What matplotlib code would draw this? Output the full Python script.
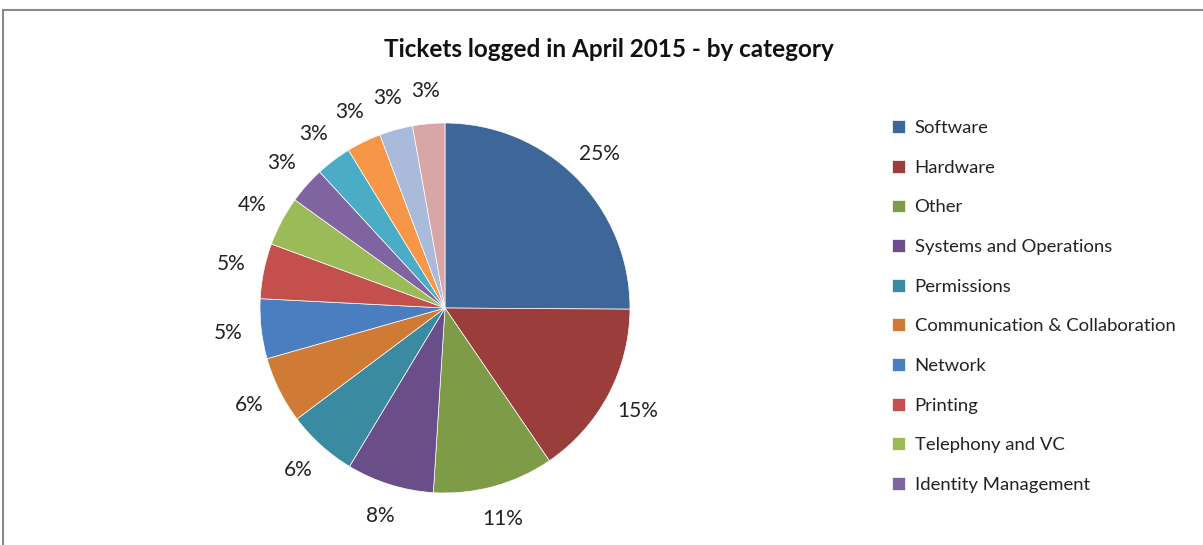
import matplotlib
matplotlib.use("Agg")
import matplotlib.pyplot as plt
from matplotlib.patches import Rectangle

# categories shown in the legend (the last four slices are not listed in the legend)
categories = ["Software", "Hardware", "Other", "Systems and Operations", "Permissions",
              "Communication & Collaboration", "Network", "Printing",
              "Telephony and VC", "Identity Management",
              "Unlisted 11", "Unlisted 12", "Unlisted 13", "Unlisted 14"]
shares = [25.0, 15.3, 10.5, 7.6, 6.1, 5.8, 5.2, 4.8, 4.3, 3.2, 3.1, 3.0, 2.9, 2.8]
colors = ["#3D6699", "#9B3D3B", "#7E9B48", "#6A4E8A", "#3A8BA1", "#D07B35",
          "#4A7EC0", "#C4504D", "#9BBB59", "#8064A2", "#4BACC6", "#F79646",
          "#A9BADB", "#D9A6A8"]
legend_count = 10

plt.rcParams['font.family'] = ['Lato', 'DejaVu Sans']

fig = plt.figure(figsize=(12.03, 5.45), dpi=100)

# chart border
fig.patches.append(Rectangle((3 / 1203, -0.05), 1.2, 1.05 - 10 / 545,
                             transform=fig.transFigure, fill=False,
                             edgecolor="#8a8a8a", linewidth=1.5))

ax = fig.add_axes([0.2161, 0.0954, 0.3076, 0.6789])
wedges, texts, autotexts = ax.pie(
    shares, colors=colors, startangle=90, counterclock=False,
    autopct='%.0f%%', pctdistance=1.18,
    wedgeprops=dict(edgecolor="white", linewidth=0.5),
    textprops=dict(fontsize=15, color="#222222"))
ax.set_xlim(-1, 1)
ax.set_ylim(-1, 1)
ax.set_aspect('equal')

fig.text(0.506, 0.91, "Tickets logged in April 2015 - by category",
         ha='center', va='center', fontsize=17.5, fontweight='bold', color="#111111")

fig.legend(wedges[:legend_count], categories[:legend_count],
           loc='upper left', bbox_to_anchor=(0.728, 0.81), frameon=False,
           fontsize=13.3, labelspacing=1.28, handlelength=0.7, handleheight=0.7,
           handletextpad=0.5, labelcolor="#222222")

fig.savefig("out.png", dpi=100)
